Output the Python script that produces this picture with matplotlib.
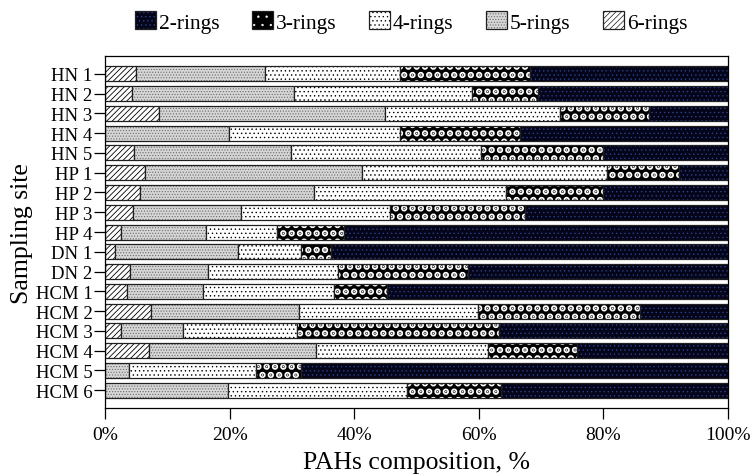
import matplotlib
matplotlib.use("Agg")
import matplotlib.pyplot as plt
from matplotlib.patches import Patch
from matplotlib.legend_handler import HandlerTuple
import numpy as np

sites = ["HN 1", "HN 2", "HN 3", "HN 4", "HN 5", "HP 1", "HP 2", "HP 3", "HP 4",
         "DN 1", "DN 2", "HCM 1", "HCM 2", "HCM 3", "HCM 4", "HCM 5", "HCM 6"]
rings6 = [5.0, 4.4, 8.7, 0.0, 4.6, 6.4, 5.6, 4.5, 2.6, 1.6, 4.0, 3.5, 7.4, 2.5, 7.1, 0.0, 0.0]
rings5 = [20.7, 25.9, 36.3, 19.9, 25.2, 34.9, 28.0, 17.4, 13.6, 19.7, 12.5, 12.2, 23.8, 10.1, 26.7, 3.9, 19.8]
rings4 = [21.7, 28.6, 28.0, 27.4, 30.5, 39.2, 30.7, 23.9, 11.4, 10.2, 20.9, 21.1, 28.7, 18.3, 27.6, 20.4, 28.7]
rings3 = [20.9, 10.6, 14.3, 19.3, 19.6, 11.6, 15.7, 21.6, 10.7, 4.8, 20.9, 8.5, 25.9, 32.4, 14.3, 7.1, 15.0]
rings2 = [31.7, 30.5, 12.7, 33.4, 20.1, 7.9, 20.0, 32.6, 61.7, 63.7, 41.7, 54.7, 14.2, 36.7, 24.3, 68.6, 36.5]
xticks = [0, 20, 40, 60, 80, 100]

plt.rcParams['font.family'] = ['Liberation Serif', 'DejaVu Serif']

# segment order left to right: 6, 5, 4, 3, 2 rings
series = [("6-rings", rings6), ("5-rings", rings5), ("4-rings", rings4),
          ("3-rings", rings3), ("2-rings", rings2)]
styles = {
    "6-rings": dict(face="white", hatch="//////", hcolor="black", hlw=0.6),
    "5-rings": dict(face="#d6d6d6", hatch="......", hcolor="#6a6a6a", hlw=0.5),
    "4-rings": dict(face="white", hatch="....", hcolor="black", hlw=0.5),
    "3-rings": dict(face="black", hatch="..", hcolor="white", hlw=3.3),
    "2-rings": dict(face="#05051a", hatch="....", hcolor="#2c428f", hlw=0.45),
}

fig = plt.figure(figsize=(7.53, 4.77), dpi=100)
ax = fig.add_axes([0.1394, 0.1426, 0.9668 - 0.1394, 0.8799 - 0.1426])

y = np.arange(len(sites))
left = np.zeros(len(sites))
handles = {}
for name, vals in series:
    st = styles[name]
    vals = np.array(vals)
    plt.rcParams['hatch.linewidth'] = st["hlw"]
    bars = ax.barh(y, vals, left=left, height=0.76, color=st["face"],
                   edgecolor=st["hcolor"], hatch=st["hatch"], linewidth=0)
    for b in bars:
        if hasattr(b, "set_hatch_linewidth"):
            b.set_hatch_linewidth(st["hlw"])
    ax.barh(y, vals, left=left, height=0.76, fill=False,
            edgecolor="#202020", linewidth=0.9)
    hp = Patch(facecolor=st["face"], edgecolor=st["hcolor"], hatch=st["hatch"], linewidth=0)
    if hasattr(hp, "set_hatch_linewidth"):
        hp.set_hatch_linewidth(st["hlw"])
    op = Patch(fill=False, edgecolor="#202020", linewidth=0.9)
    handles[name] = (hp, op)
    left = left + vals

ax.set_xlim(0, 100)
ax.set_ylim(16.9, -0.89)
ax.set_yticks(y)
ax.set_yticklabels(sites, fontsize=13.5)
ax.set_xticks(xticks)
ax.set_xticklabels([f"{t}%" for t in xticks], fontsize=14)
ax.tick_params(axis='both', direction='out', length=8, width=0.9, color="black")
ax.tick_params(axis='x', pad=5)
ax.tick_params(axis='y', pad=1)
for s in ax.spines.values():
    s.set_linewidth(0.9)
ax.set_xlabel("PAHs composition, %", fontsize=18.5, labelpad=6)
ax.set_ylabel("Sampling site", fontsize=18.5, labelpad=2)

order = ["2-rings", "3-rings", "4-rings", "5-rings", "6-rings"]
fig.legend([handles[n] for n in order], order, handler_map={tuple: HandlerTuple(ndivide=1)},
           loc="center", bbox_to_anchor=(0.546, 0.952), ncol=5, frameon=False,
           fontsize=15.5, handlelength=1.0, handleheight=0.9, handletextpad=0.12,
           columnspacing=1.5, borderaxespad=0)

fig.savefig("out.png", dpi=100)
